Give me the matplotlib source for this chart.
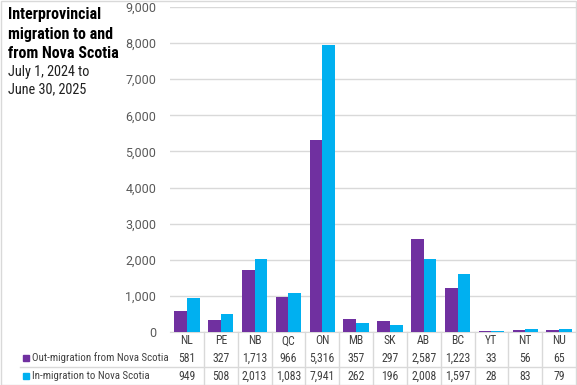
import numpy as np
import matplotlib
matplotlib.use("Agg")
from matplotlib import pyplot as plt
from matplotlib.patches import Rectangle
import matplotlib.transforms as mtransforms

# data
provinces = ["NL", "PE", "NB", "QC", "ON", "MB", "SK", "AB", "BC", "YT", "NT", "NU"]
out_migration = [581, 327, 1713, 966, 5316, 357, 297, 2587, 1223, 33, 56, 65]
in_migration = [949, 508, 2013, 1083, 7941, 262, 196, 2008, 1597, 28, 83, 79]
series_names = ["Out-migration from Nova Scotia", "In-migration to Nova Scotia"]
y_ticks = [0, 1000, 2000, 3000, 4000, 5000, 6000, 7000, 8000, 9000]
title_lines = ["Interprovincial", "migration to and", "from Nova Scotia"]
subtitle_lines = ["July 1, 2024 to", "June 30, 2025"]

purple = "#7030A0"
blue = "#00B0F0"
grid_col = "#D9D9D9"
text_col = "#404040"

plt.rcParams['font.family'] = ['Roboto Condensed', 'DejaVu Sans']

W, H = 577, 385
fig = plt.figure(figsize=(W / 100, H / 100), dpi=100)

def fy(py):
    # pixel row from top -> figure fraction
    return 1 - py / H

# plot area in pixels
left, right, top, bottom = 170, 576, 7, 332
ax = fig.add_axes([left / W, 1 - bottom / H, (right - left) / W, (bottom - top) / H])

x = np.arange(len(provinces))
bw = 0.375
ax.bar(x - bw / 2, out_migration, bw, color=purple, zorder=3)
ax.bar(x + bw / 2, in_migration, bw, color=blue, zorder=3)

ax.set_xlim(-0.5, len(provinces) - 0.5)
ax.set_ylim(0, 9000)
ax.set_yticks(y_ticks)
ax.set_yticklabels([f"{v:,}" for v in y_ticks], color="#595959", fontsize=9,
                   family=["Roboto", "DejaVu Sans"])
ax.tick_params(axis="y", length=0, pad=10)
ax.set_xticks([])
ax.grid(axis="y", color=grid_col, linewidth=1, zorder=0)
for s in ["top", "right", "left"]:
    ax.spines[s].set_visible(False)
ax.spines["bottom"].set_color(grid_col)

# data table under the axis
trans = mtransforms.blended_transform_factory(ax.transData, fig.transFigure)
row_y = [341, 358, 376]
for i, p in enumerate(provinces):
    ax.text(i, fy(row_y[0]), p, transform=trans, ha="center", va="center",
            fontsize=8.5, color=text_col)
    ax.text(i, fy(row_y[1]), f"{out_migration[i]:,}", transform=trans, ha="center",
            va="center", fontsize=8.5, color=text_col)
    ax.text(i, fy(row_y[2]), f"{in_migration[i]:,}", transform=trans, ha="center",
            va="center", fontsize=8.5, color=text_col)

# table grid lines (between columns only)
for b in np.arange(0.5, len(provinces) - 1, 1.0):
    ax.plot([b, b], [fy(332), fy(384)], transform=trans, color=grid_col,
            linewidth=1, clip_on=False)
fig.add_artist(plt.Line2D([20 / W, right / W], [fy(366.5), fy(366.5)], color=grid_col, linewidth=1))

# legend keys in the table
for yy, name, col in zip(row_y[1:], series_names, [purple, blue]):
    fig.add_artist(Rectangle((23 / W, fy(yy + 3)), 6 / W, 6 / H, color=col,
                             transform=fig.transFigure))
    fig.text(32 / W, fy(yy), name, ha="left", va="center", fontsize=7.8, color=text_col)

# title block
for k, line in enumerate(title_lines):
    fig.text(8 / W, fy(15 + 19 * k), line, ha="left", va="center",
             fontsize=11.5, fontweight="bold", color="black")
for k, line in enumerate(subtitle_lines):
    fig.text(8 / W, fy(72 + 17 * k), line, ha="left", va="center",
             fontsize=10.3, color="#202020")

# chart border
fig.add_artist(Rectangle((0.5 / W, 0.5 / H), (W - 1.5) / W, (H - 1.5) / H, fill=False,
                         edgecolor=grid_col, linewidth=1, transform=fig.transFigure))

fig.savefig("out.png", dpi=100)
